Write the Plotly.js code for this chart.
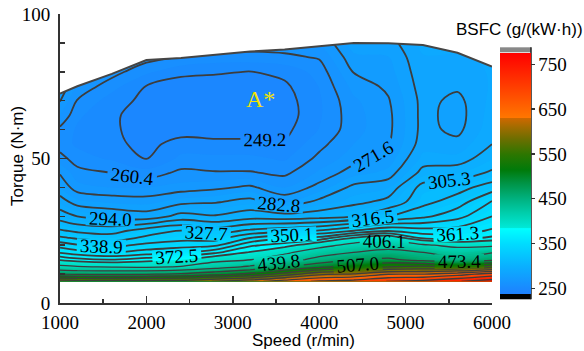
<!DOCTYPE html>
<html><head><meta charset="utf-8">
<script src="https://cdn.plot.ly/plotly-3.0.1.min.js"></script>
<style>html,body{margin:0;padding:0;background:#fff;} #chart{width:584px;height:351px;}</style>
</head><body><div id="chart"></div>
<script>
// ---- data ----
const speeds  = [1000,1200,1600,2000,2400,2800,3200,3600,4000,4400,4800,5200,5600,6000];
const torques = [7.5,10,12.5,15,17.5,20,22.5,25,30,35,40,45,50,55,60,65,70,75,80,85,90];
// BSFC (g/(kW·h)) per speed column, listed for each torque above
const bsfc1000 = [595,475,412,382,360,345,330,318,300,287,277,271,263,257,259,266,272,277,281,284,287];
const bsfc1200 = [590,470,408,376,355,340,326,314,294,279,268,263,257,254,254,256,260,265,270,274,278];
const bsfc1600 = [585,468,404,372,350,335,322,312,290,276,266,260.5,254,251,250,250,252,257,263,268,272];
const bsfc2000 = [590,470,402,378,355,342,330,322,287,275,266,257,249,247,247,247,247.5,249,256,263,268];
const bsfc2400 = [590,478,408,383,360,345,335,328,298,280,268,262,256,252,246,245,245,246,251,260,266];
const bsfc2800 = [610,495,425,397,370,348,334,322,295,282,270,261,256,251,246,245,245,246,250,258,264];
const bsfc3200 = [630,515,445,405,385,370,350,330,300,286,273,261,256,251,246,245,245,246,249,258,264];
const bsfc3600 = [660,555,470,425,400,378,360,335,298,277,266,259,254,250,247.5,246,246.5,248,251,259,264];
const bsfc4000 = [680,600,500,450,425,395,365,340,300,285,274,267,262,258.5,255,254,254,255,257,261,266];
const bsfc4400 = [690,610,522,470,440,415,385,350,305,291,285,275,269,266,264,264,265,268,272,276,280];
const bsfc4800 = [710,640,542,480,450,425,395,360,316,297,288,279,274,271,270,270,271,273,275,277,280];
const bsfc5200 = [720,640,550,460,440,410,370,355,325,313,309,297,290,286,285,285,285,286,287,288,290];
const bsfc5600 = [740,660,540,450,425,398,368,355,335,322,312,299,290,285,281,280,281,284,286,288,290];
const bsfc6000 = [760,690,560,465,438,400,375,363,350,340,322,307,299,294,292,291,290,289,289,289,290];
// full-load (maximum) torque curve
const maxTorque = [72.5,75,79.3,84.1,84.8,85.8,87,87.7,88.8,90,89.9,89.3,86.6,81.8];
// contour levels (index k -> levelMin + k*(levelMax-levelMin)/levelCount)
const levelMin = 238, levelMax = 776, levelCount = 48;
const denseFirst = 1, denseLast = 13, sparseFirst = 15, sparseEvery = 3;
const colorbarTicks = [250,350,450,550,650,750];
const xTicks = [1000,2000,3000,4000,5000,6000];
const yTicks = [0,50,100];
const colorStops = [
  [238,'rgb(30,128,255)'],[300,'rgb(10,176,255)'],[350,'rgb(0,220,255)'],[384,'rgb(0,255,255)'],
  [386,'rgb(0,232,215)'],[420,'rgb(0,205,170)'],[450,'rgb(0,178,128)'],[485,'rgb(0,148,70)'],
  [515,'rgb(0,122,10)'],[550,'rgb(45,118,0)'],[585,'rgb(110,110,0)'],[612,'rgb(165,108,0)'],
  [630,'rgb(205,104,0)'],[632,'rgb(255,118,0)'],[700,'rgb(255,62,0)'],[776,'rgb(255,0,0)']
];

// ---- build ----
const columns = [bsfc1000,bsfc1200,bsfc1600,bsfc2000,bsfc2400,bsfc2800,bsfc3200,bsfc3600,bsfc4000,bsfc4400,bsfc4800,bsfc5200,bsfc5600,bsfc6000];
const z = torques.map((t,i)=>columns.map(col=>col[i]));

function scaleFor(lo, hi){
  const s = colorStops.map(([v,c])=>[Math.min(1,Math.max(0,(v-lo)/(hi-lo))), c]);
  if (s[0][0] > 0) s.unshift([0, s[0][1]]);
  if (s[s.length-1][0] < 1) s.push([1, s[s.length-1][1]]);
  return s;
}
const lineStep = (levelMax-levelMin)/levelCount;
const lineStart = levelMin + 1e-3;           // nudge so half-way labels round like the original (305.3, 439.8 ...)
const fillStep = lineStep/2;
const ncFill = Math.floor((levelMax + fillStep/1e6 - levelMin)/fillStep) + 1;
const fillLo = levelMin - fillStep/2, fillHi = levelMin + (ncFill - 0.5)*fillStep;

const W=584,H=351, M={l:60,r:92,t:14,b:48};
const PW=W-M.l-M.r, PH=H-M.t-M.b;
const px2x = p => (p-M.l)/PW;
const px2y = p => (H-M.b-p)/PH;
const xMin=speeds[0], xMax=speeds[speeds.length-1], yMax=100;

const serif='Liberation Serif, Times New Roman, serif';
const sans='Liberation Sans, Arial, sans-serif';
const lblFont = {family:serif,size:19,color:'#000'};

const traces = [
  {type:'contour', x:speeds, y:torques, z:z, autocontour:false,
   contours:{start:levelMin,end:levelMax,size:fillStep,coloring:'fill',showlines:false},
   colorscale:scaleFor(fillLo,fillHi), showscale:false, line:{width:0}, hoverinfo:'skip'},
  {type:'contour', x:speeds, y:torques, z:z, autocontour:false,
   contours:{start:lineStart+denseFirst*lineStep,end:lineStart+denseLast*lineStep,size:lineStep,coloring:'none',showlabels:true,
             labelformat:'.1f', labelfont:lblFont},
   line:{color:'#3d3d3d',width:1.8}, showscale:false, hoverinfo:'skip'},
  {type:'contour', x:speeds, y:torques, z:z, autocontour:false,
   contours:{start:lineStart+sparseFirst*lineStep,end:levelMax,size:sparseEvery*lineStep,coloring:'none',showlabels:true,
             labelformat:'.1f', labelfont:lblFont},
   line:{color:'#3d3d3d',width:1.3}, showscale:false, hoverinfo:'skip'},
  {type:'scatter', mode:'lines', x:speeds.concat([xMax,xMin]), y:maxTorque.concat([yMax,yMax]),
   fill:'toself', fillcolor:'#ffffff', line:{width:0,color:'#fff'}, hoverinfo:'skip'},
  {type:'scatter', mode:'lines', x:speeds, y:maxTorque, line:{color:'#454545',width:2}, hoverinfo:'skip'},
  {type:'scatter', mode:'markers', x:[null], y:[null], hoverinfo:'skip',
   marker:{color:[levelMin], cmin:levelMin, cmax:levelMax, colorscale:scaleFor(levelMin,levelMax), showscale:true,
     colorbar:{thickness:31, thicknessmode:'pixels', len:241.4, lenmode:'pixels',
       x:px2x(500), xanchor:'left', xref:'paper', xpad:0,
       y:px2y(293.7), yanchor:'bottom', yref:'paper', ypad:0,
       outlinewidth:0, tickmode:'array', tickvals:colorbarTicks,
       ticks:'outside', ticklen:4, tickwidth:1.5, tickcolor:'#333',
       tickfont:{family:serif,size:19,color:'#000'}}}}
];

const layout = {
  width:W, height:H, margin:{l:M.l,r:M.r,t:M.t,b:M.b,pad:0},
  paper_bgcolor:'#fff', plot_bgcolor:'#fff', showlegend:false,
  xaxis:{range:[xMin,xMax], tickmode:'array', tickvals:xTicks, ticks:'inside', ticklen:7, tickwidth:1.5, tickcolor:'#333',
    showline:true, linewidth:2, linecolor:'#333', showgrid:false, zeroline:false,
    tickfont:{family:serif,size:19,color:'#000'}, ticklabelstandoff:1,
    minor:{dtick:500, tick0:1000, ticks:'inside', ticklen:4.5, tickwidth:1.5, tickcolor:'#333', showgrid:false}},
  yaxis:{range:[0,yMax], tickmode:'array', tickvals:yTicks, ticks:'inside', ticklen:8, tickwidth:1.5, tickcolor:'#333',
    showline:true, linewidth:2, linecolor:'#333', showgrid:false, zeroline:false,
    tickfont:{family:serif,size:19,color:'#000'}, ticklabelstandoff:4,
    minor:{dtick:10, tick0:0, ticks:'inside', ticklen:5, tickwidth:1.5, tickcolor:'#333', showgrid:false}},
  shapes:[
    {type:'rect', xref:'paper', yref:'paper', x0:px2x(500), x1:px2x(531), y0:px2y(52.3), y1:px2y(47.3), fillcolor:'#888', line:{width:0}},
    {type:'rect', xref:'paper', yref:'paper', x0:px2x(500), x1:px2x(531), y0:px2y(299.3), y1:px2y(293.7), fillcolor:'#000', line:{width:0}},
    {type:'line', xref:'paper', yref:'paper', x0:px2x(531), x1:px2x(531), y0:px2y(299.3), y1:px2y(47.3), line:{color:'#222',width:1.5}}
  ],
  annotations:[
    {text:'A*', x:3315, y:70.6, xref:'x', yref:'y', xanchor:'center', yanchor:'middle', showarrow:false, font:{family:serif,size:24,color:'#f2e205'}},
    {text:'Speed (r/min)', xref:'paper', yref:'paper', x:px2x(303), y:px2y(340), xanchor:'center', yanchor:'middle', showarrow:false, font:{family:sans,size:17,color:'#000'}},
    {text:'Torque (N·m)', xref:'paper', yref:'paper', x:px2x(17), y:px2y(156), xanchor:'center', yanchor:'middle', textangle:-90, showarrow:false, font:{family:sans,size:17,color:'#000'}},
    {text:'BSFC (g/(kW·h))', xref:'paper', yref:'paper', x:px2x(454), y:px2y(30), xanchor:'left', yanchor:'middle', showarrow:false, font:{family:sans,size:17,color:'#000'}}
  ]
};
Plotly.newPlot('chart', traces, layout, {displayModeBar:false, staticPlot:true});
</script></body></html>
